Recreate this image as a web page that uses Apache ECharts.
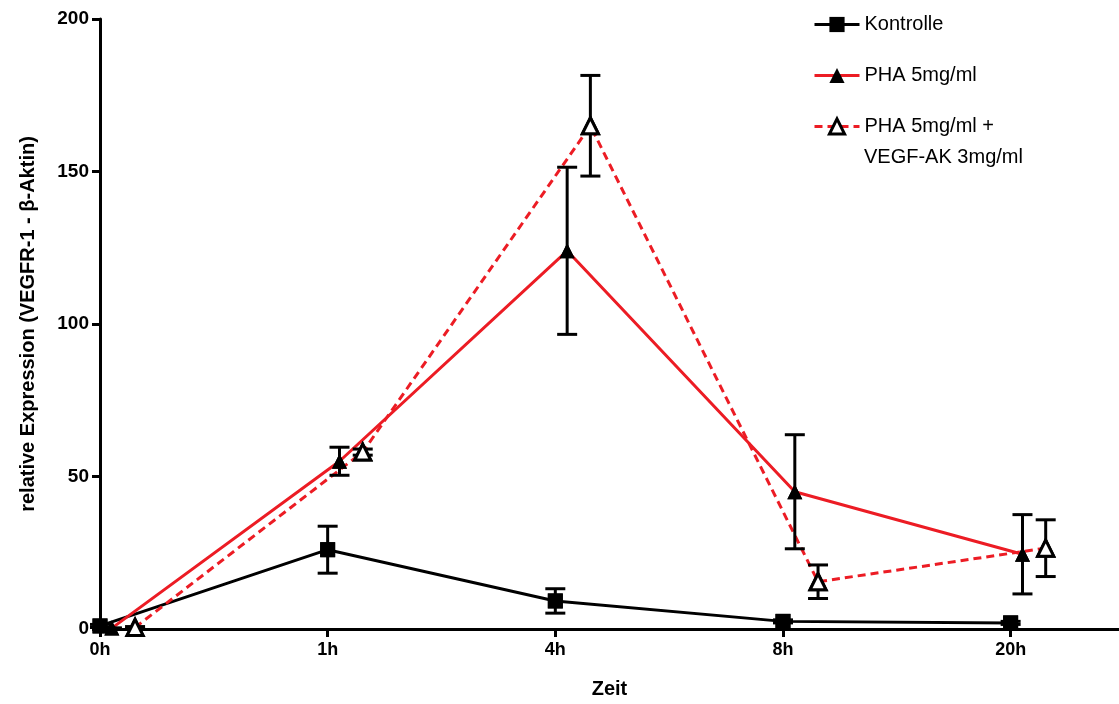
<!DOCTYPE html>
<html><head><meta charset="utf-8">
<script src="https://cdn.jsdelivr.net/npm/echarts@6/dist/echarts.min.js"></script>
<style>html,body{margin:0;background:#fff}#c{width:1119px;height:704px}</style></head>
<body><div id="c"></div>
<script>
const categories = ['0h', '1h', '4h', '8h', '20h'];
const yTicks = [0, 50, 100, 150, 200];
const kontrolle = [1, 26, 9.2, 2.5, 2];
const kontrolleErr = [0.5, 7.7, 4, 0.5, 0.5];
const pha = [0.3, 55, 124, 45, 24.5];
const phaErr = [0, 4.6, 27.4, 18.7, 13];
const vegf = [0.5, 58, 165, 15.5, 26.5];
const vegfErr = [0.3, 1, 16.5, 5.5, 9.3];
const seriesNames = ['Kontrolle', 'PHA 5mg/ml', 'PHA 5mg/ml + VEGF-AK 3mg/ml'];
const legendLines = ['Kontrolle', 'PHA 5mg/ml', 'PHA 5mg/ml +', 'VEGF-AK 3mg/ml'];

const RED = '#ec1c24';
const FONT = 'Liberation Sans, Arial, sans-serif';
const offsets = [0, 0.052, 0.154];
const pts = (arr, off) => arr.map((v, i) => [i + off, v]);
const errs = (arr, e, off) => arr.map((v, i) => [i + off, v - e[i], v + e[i]]);

function errRender(params, api) {
  const x = api.value(0);
  const lo = api.coord([x, api.value(1)]);
  const hi = api.coord([x, api.value(2)]);
  const w = 10;
  const st = { stroke: '#000', lineWidth: 3 };
  return { type: 'group', children: [
    { type: 'line', shape: { x1: lo[0], y1: lo[1], x2: hi[0], y2: hi[1] }, style: st },
    { type: 'line', shape: { x1: lo[0] - w, y1: lo[1], x2: lo[0] + w, y2: lo[1] }, style: st },
    { type: 'line', shape: { x1: hi[0] - w, y1: hi[1], x2: hi[0] + w, y2: hi[1] }, style: st }
  ]};
}

const lineDefs = [
  { data: kontrolle, err: kontrolleErr, color: '#000', type: 'solid', symbol: 'rect', size: 15, item: { color: '#000' } },
  { data: pha, err: phaErr, color: RED, type: 'solid', symbol: 'triangle', size: 15, item: { color: '#000' } },
  { data: vegf, err: vegfErr, color: RED, type: [8, 5], symbol: 'triangle', size: 16, item: { color: '#fff', borderColor: '#000', borderWidth: 3 } }
];

const series = [];
lineDefs.forEach((d, k) => {
  series.push({
    name: seriesNames[k], type: 'line', z: 2,
    data: pts(d.data, offsets[k]),
    symbol: d.symbol, symbolSize: d.size, showSymbol: true,
    lineStyle: { color: d.color, width: 3, type: d.type },
    itemStyle: Object.assign({}, d.item),
    emphasis: { disabled: true }, animation: false
  });
});
lineDefs.forEach((d, k) => {
  series.push({
    name: 'err' + k, type: 'custom', z: 3, renderItem: errRender,
    data: errs(d.data, d.err, offsets[k]), animation: false, silent: true
  });
});
lineDefs.forEach((d, k) => {
  series.push({
    name: 'mk' + k, type: 'scatter', z: 4,
    data: pts(d.data, offsets[k]),
    symbol: d.symbol, symbolSize: d.size,
    itemStyle: Object.assign({ opacity: 1 }, d.item),
    animation: false, silent: true
  });
});

const chart = echarts.init(document.getElementById('c'), null, { renderer: 'canvas' });
chart.setOption({
  backgroundColor: '#fff',
  animation: false,
  textStyle: { fontFamily: FONT },
  grid: { left: 100, right: 0, top: 19, bottom: 74, containLabel: false },
  legend: {
    data: [
      { name: seriesNames[0] },
      { name: seriesNames[1] },
      { name: seriesNames[2], itemStyle: { color: '#fff', borderColor: '#000', borderWidth: 3 } }
    ],
    orient: 'vertical', left: 808, top: 3,
    itemWidth: 45, itemHeight: 19, itemGap: 18,
    lineStyle: { width: 3 },
    formatter: n => legendLines[seriesNames.indexOf(n)],
    textStyle: { fontSize: 20, color: '#000', fontFamily: FONT, lineHeight: 33 },
    selectedMode: false
  },
  graphic: [{
    type: 'text', left: 864, top: 147, silent: true,
    style: { text: legendLines[3], fontSize: 20, fill: '#000', fontFamily: FONT }
  }],
  xAxis: {
    type: 'value', min: 0, max: 4.476,
    name: 'Zeit', nameLocation: 'middle', nameGap: 50,
    nameTextStyle: { fontSize: 20, fontWeight: 'bold', color: '#000', fontFamily: FONT },
    splitLine: { show: false },
    axisLine: { show: true, lineStyle: { color: '#000', width: 3 } },
    axisTick: { show: true, length: 8, lineStyle: { color: '#000', width: 3 }, customValues: [0, 1, 2, 3, 4] },
    axisLabel: { fontSize: 18, fontWeight: 'bold', color: '#000', margin: 12, customValues: [0, 1, 2, 3, 4],
      formatter: v => categories[Math.round(v)] || '' }
  },
  yAxis: {
    type: 'value', min: 0, max: 200, interval: 50,
    name: 'relative Expression (VEGFR-1 - β-Aktin)', nameLocation: 'middle', nameGap: 62,
    nameTextStyle: { fontSize: 20, fontWeight: 'bold', color: '#000', fontFamily: FONT },
    splitLine: { show: false },
    axisLine: { show: true, lineStyle: { color: '#000', width: 3 } },
    axisTick: { show: true, length: 8, lineStyle: { color: '#000', width: 3 } },
    axisLabel: { fontSize: 19, fontWeight: 'bold', color: '#000', margin: 11,
      formatter: v => yTicks.includes(v) ? String(v) : '' }
  },
  series: series
});
</script>
</body></html>
